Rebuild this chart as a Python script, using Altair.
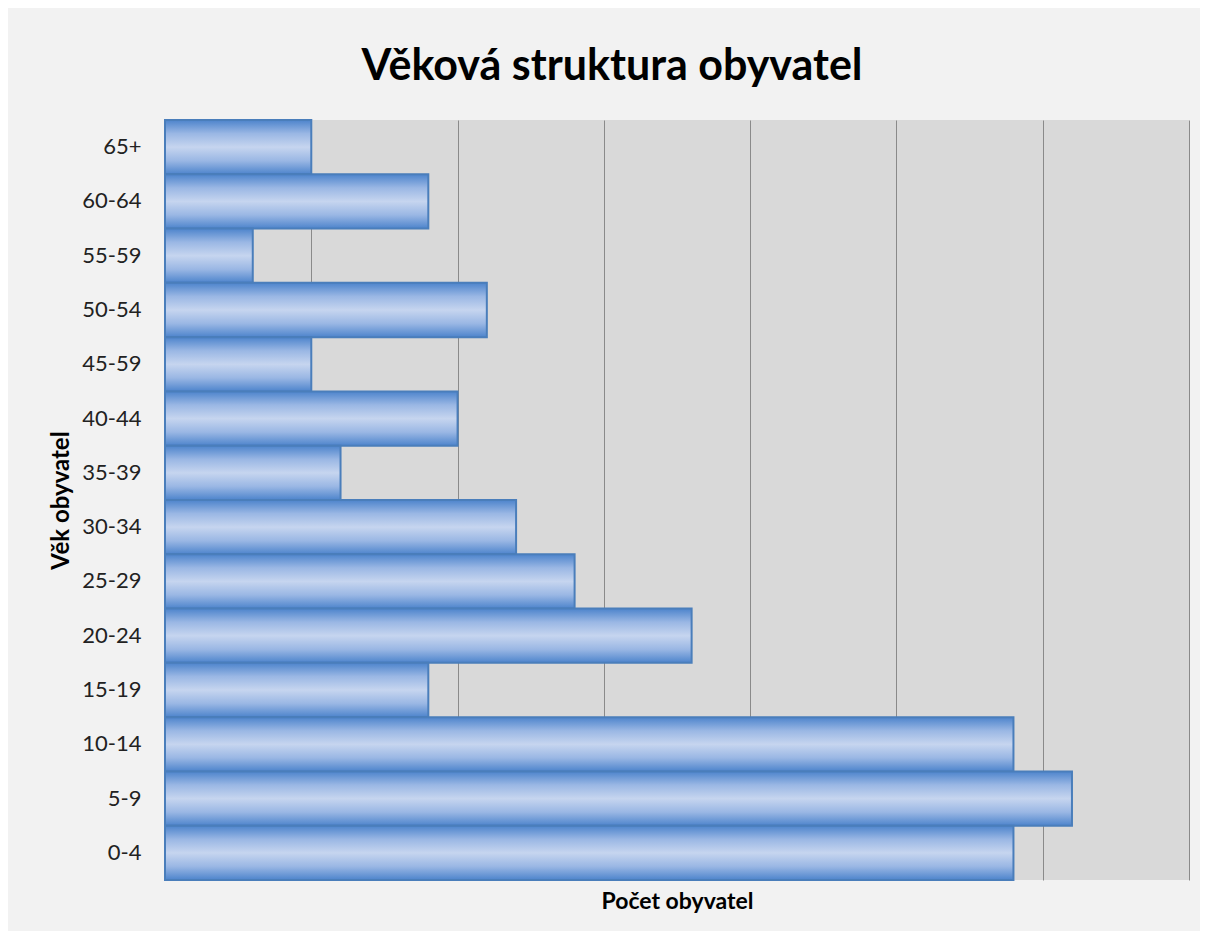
import altair as alt
import pandas as pd

categories = ["65+", "60-64", "55-59", "50-54", "45-59", "40-44", "35-39",
              "30-34", "25-29", "20-24", "15-19", "10-14", "5-9", "0-4"]
values = [5, 9, 3, 11, 5, 10, 6, 12, 14, 18, 9, 29, 31, 29]

df = pd.DataFrame({"vek": categories, "pocet": values})

FONT = "Lato"

grad = alt.Gradient(
    gradient="linear",
    stops=[
        alt.GradientStop(color="#4d84cc", offset=0),
        alt.GradientStop(color="#9ab7e4", offset=0.25),
        alt.GradientStop(color="#c6d5ef", offset=0.5),
        alt.GradientStop(color="#9ab7e4", offset=0.75),
        alt.GradientStop(color="#4d84cc", offset=1),
    ],
    x1=0, x2=0, y1=0, y2=1,
)

chart = (
    alt.Chart(df)
    .mark_bar(color=grad, stroke="#4a7ebb", strokeWidth=2)
    .encode(
        y=alt.Y(
            "vek:N",
            sort=categories,
            scale=alt.Scale(paddingInner=0, paddingOuter=0),
            axis=alt.Axis(
                title="Věk obyvatel",
                titleFont=FONT, titleFontSize=24, titleFontWeight="bold",
                titleColor="#000000", titlePadding=8,
                labelFont=FONT, labelFontSize=22, labelColor="#222222",
                labelPadding=24, ticks=False,
                domain=True, domainColor="#868686", domainWidth=1.5,
                grid=False,
            ),
        ),
        x=alt.X(
            "pocet:Q",
            scale=alt.Scale(domain=[0, 35], nice=False),
            axis=alt.Axis(
                title="Počet obyvatel",
                titleFont=FONT, titleFontSize=23, titleFontWeight="bold",
                titleColor="#000000", titlePadding=10,
                labels=False, ticks=False, domain=False,
                values=[5, 10, 15, 20, 25, 30, 35],
                grid=True, gridColor="#8a8a8a", gridWidth=1,
            ),
        ),
    )
    .properties(
        width=1024,
        height=760,
        title=alt.TitleParams(
            "Věková struktura obyvatel",
            font=FONT, fontSize=43, fontWeight="bold", color="#000000",
            anchor="middle", dx=-65, offset=30,
        ),
        background="#f2f2f2",
        padding={"left": 157, "top": 112, "right": 11, "bottom": 51},
        autosize=alt.AutoSizeParams(type="none"),
    )
    .configure_view(fill="#d9d9d9", stroke=None)
)

chart.save("out.html", embed_options={"renderer": "svg", "actions": False})
